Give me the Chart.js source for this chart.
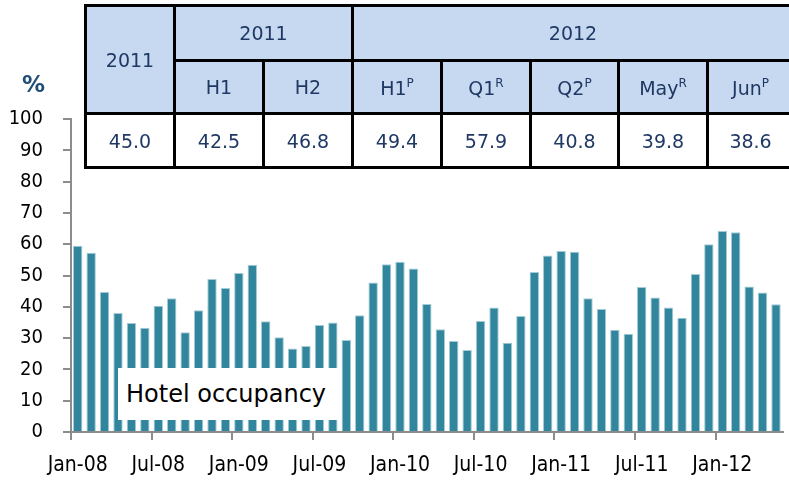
<!DOCTYPE html>
<html>
<head>
<meta charset="utf-8">
<script src="https://cdn.jsdelivr.net/npm/chart.js@4.4.1/dist/chart.umd.min.js"></script>
<style>
  body { margin: 0; width: 789px; height: 481px; overflow: hidden; background: #fff; position: relative; font-family: "DejaVu Sans", sans-serif; }
  #myChart { position: absolute; left: 0; top: 0; }
  #summary { position: absolute; left: 84px; top: 4px; border-collapse: collapse; table-layout: fixed; }
  #summary td { border: 3px solid #000; text-align: center; color: #1f3864; font-size: 19px; padding: 0; }
  #summary td.head { background: #c6d9f0; }
  #summary td.val { background: #fff; }
  #summary sup { font-size: 12px; vertical-align: 8px; }
  #pct { position: absolute; left: 22px; top: 71px; color: #1f4e79; font-size: 23px; font-weight: bold; }
  #seriesName { position: absolute; left: 118px; top: 368px; width: 221px; height: 52px; background: #fff; font-size: 24px; line-height: 52px; padding-left: 8px; box-sizing: border-box; color: #000; white-space: nowrap; }
</style>
</head>
<body>
<canvas id="myChart" width="789" height="481"></canvas>
<table id="summary"></table>
<div id="pct">%</div>
<div id="seriesName"></div>
<script>
const months = [
  "Jan-08","Feb-08","Mar-08","Apr-08","May-08","Jun-08","Jul-08","Aug-08","Sep-08","Oct-08","Nov-08","Dec-08",
  "Jan-09","Feb-09","Mar-09","Apr-09","May-09","Jun-09","Jul-09","Aug-09","Sep-09","Oct-09","Nov-09","Dec-09",
  "Jan-10","Feb-10","Mar-10","Apr-10","May-10","Jun-10","Jul-10","Aug-10","Sep-10","Oct-10","Nov-10","Dec-10",
  "Jan-11","Feb-11","Mar-11","Apr-11","May-11","Jun-11","Jul-11","Aug-11","Sep-11","Oct-11","Nov-11","Dec-11",
  "Jan-12","Feb-12","Mar-12","Apr-12","May-12"
];
const occupancy = [
  59.5, 57.3, 44.7, 38.0, 34.8, 33.3, 40.3, 42.7, 31.9, 38.9, 48.9, 46.0,
  50.8, 53.4, 35.4, 30.3, 26.7, 27.5, 34.2, 35.0, 29.4, 37.3, 47.8, 53.6,
  54.4, 52.2, 40.9, 32.8, 29.1, 26.2, 35.5, 39.8, 28.5, 37.1, 51.1, 56.4,
  57.8, 57.6, 42.7, 39.3, 32.7, 31.4, 46.3, 43.0, 39.8, 36.5, 50.5, 60.0,
  64.2, 63.8, 46.5, 44.6, 40.8
];
const seriesLabel = "Hotel occupancy";

// summary table
const tableYears = [["2011", 1], ["2011", 2], ["2012", 5]];
const tablePeriods = ["H1", "H2", "H1", "Q1", "Q2", "May", "Jun"];
const tableMarks = ["", "", "P", "R", "P", "R", "P"];
const tableValues = ["45.0", "42.5", "46.8", "49.4", "57.9", "40.8", "39.8", "38.6"];
const colWidths = [89, 89, 89, 89, 89, 88, 89, 86];

document.addEventListener("DOMContentLoaded", function () {
  const table = document.getElementById("summary");
  table.style.width = colWidths.reduce((a, b) => a + b, 0) + "px";
  let html = "<colgroup>" + colWidths.map((w) => '<col style="width:' + w + 'px">').join("") + "</colgroup>";
  html += '<tr style="height:55px"><td class="head" rowspan="2">' + tableYears[0][0] + "</td>";
  html += '<td class="head" colspan="' + tableYears[1][1] + '">' + tableYears[1][0] + "</td>";
  html += '<td class="head" colspan="' + tableYears[2][1] + '">' + tableYears[2][0] + "</td></tr>";
  html += '<tr style="height:53px">';
  tablePeriods.forEach((p, i) => {
    html += '<td class="head">' + p + (tableMarks[i] ? "<sup>" + tableMarks[i] + "</sup>" : "") + "</td>";
  });
  html += '</tr><tr style="height:54px">';
  tableValues.forEach((v) => { html += '<td class="val">' + v + "</td>"; });
  html += "</tr>";
  table.innerHTML = html;
  document.getElementById("seriesName").textContent = seriesLabel;

  const axisGray = "#8c8c8c";
  const ctx = document.getElementById("myChart").getContext("2d");
  const myChart = new Chart(ctx, {
    type: "bar",
    data: {
      labels: months,
      datasets: [
        {
          label: seriesLabel,
          data: occupancy,
          backgroundColor: "#31859c",
          borderColor: "#a3ccd7",
          borderWidth: 1,
          barPercentage: 0.7,
          categoryPercentage: 1,
        },
      ],
    },
    options: {
      responsive: false,
      animation: false,
      devicePixelRatio: 1,
      layout: { padding: { top: 119, right: 0, left: 0, bottom: 0 } },
      plugins: { legend: { display: false }, tooltip: { enabled: false } },
      scales: {
        x: {
          afterFit: (s) => { s.height = 49; },
          border: { color: axisGray, width: 2 },
          grid: {
            offset: true,
            drawOnChartArea: false,
            tickLength: 8,
            lineWidth: 2,
            tickColor: (c) => (c.index % 6 === 0 ? axisGray : "transparent"),
          },
          ticks: {
            autoSkip: false,
            maxRotation: 0,
            minRotation: 0,
            padding: 13,
            color: "#000",
            font: { family: "DejaVu Sans Condensed", size: 21 },
            callback: (v, i) => (i % 6 === 0 ? months[i] : ""),
          },
        },
        y: {
          min: 0,
          max: 100,
          afterFit: (s) => { s.width = 71; },
          border: { color: axisGray, width: 2 },
          grid: { drawOnChartArea: false, tickLength: 8, tickColor: axisGray, lineWidth: 2 },
          ticks: {
            stepSize: 10,
            padding: 20,
            color: "#000",
            font: { family: "DejaVu Sans Condensed", size: 20 },
          },
        },
      },
    },
  });
});
</script>
</body>
</html>
